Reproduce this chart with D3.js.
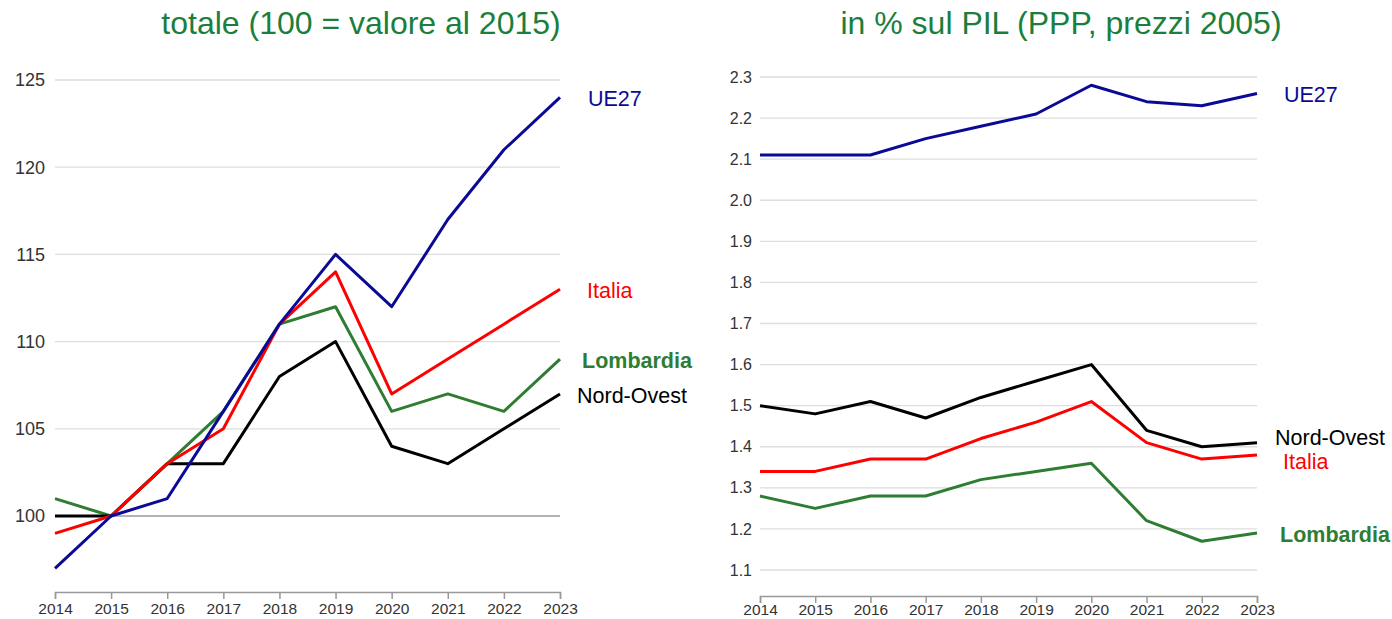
<!DOCTYPE html>
<html>
<head>
<meta charset="utf-8">
<script src="https://cdn.jsdelivr.net/npm/d3@7"></script>
<style>
  body { margin: 0; background: #fff; }
  svg { display: block; font-family: "Liberation Sans", Arial, sans-serif; }
</style>
</head>
<body>
<div id="container"></div>
<script>
// anni
const years = [2014, 2015, 2016, 2017, 2018, 2019, 2020, 2021, 2022, 2023];

// totale, indice 100 = 2015
const ue27Index = [97, 100, 101, 106, 111, 115, 112, 117, 121, 124];
const italiaIndex = [99, 100, 103, 105, 111, 114, 107, 109, 111, 113];
const lombardiaIndex = [101, 100, 103, 106, 111, 112, 106, 107, 106, 109];
const nordOvestIndex = [100, 100, 103, 103, 108, 110, 104, 103, 105, 107];
const indexTicks = [100, 105, 110, 115, 120, 125];

// % sul PIL
const ue27Pil = [2.11, 2.11, 2.11, 2.15, 2.18, 2.21, 2.28, 2.24, 2.23, 2.26];
const nordOvestPil = [1.50, 1.48, 1.51, 1.47, 1.52, 1.56, 1.60, 1.44, 1.40, 1.41];
const italiaPil = [1.34, 1.34, 1.37, 1.37, 1.42, 1.46, 1.51, 1.41, 1.37, 1.38];
const lombardiaPil = [1.28, 1.25, 1.28, 1.28, 1.32, 1.34, 1.36, 1.22, 1.17, 1.19];
const pilTicks = [1.1, 1.2, 1.3, 1.4, 1.5, 1.6, 1.7, 1.8, 1.9, 2.0, 2.1, 2.2, 2.3];

const colors = {
    'UE27': '#0a0a96',
    'Italia': '#ff0000',
    'Lombardia': '#2e7d32',
    'Nord-Ovest': '#000000'
}
const titleColor = '#1a7f3c';

const svg = d3.select('#container')
    .append('svg')
    .attr('width', 1392)
    .attr('height', 619)

const drawPanel = (opt) => {
    const x = d3.scaleLinear().domain([2014, 2023]).range([opt.left, opt.right]);
    const y = d3.scaleLinear().domain(opt.yDomain).range([opt.bottom, opt.top]);

    const g = svg.append('g');

    // title
    g.append('text')
        .attr('x', opt.titleX)
        .attr('y', 34)
        .attr('text-anchor', 'middle')
        .attr('fill', titleColor)
        .attr('font-size', 32)
        .text(opt.title)

    // gridlines
    g.selectAll('line.grid')
        .data(opt.ticks)
        .enter()
        .append('line')
        .attr('class', 'grid')
        .attr('x1', opt.left)
        .attr('x2', opt.right)
        .attr('y1', d => y(d))
        .attr('y2', d => y(d))
        .attr('stroke', d => d === opt.baseline ? '#9a9a9a' : '#dedede')
        .attr('stroke-width', d => d === opt.baseline ? 1.5 : 1.3)

    // y labels
    g.selectAll('text.ylab')
        .data(opt.ticks)
        .enter()
        .append('text')
        .attr('class', 'ylab')
        .attr('x', opt.left - opt.labelGap)
        .attr('y', d => y(d))
        .attr('dy', '0.35em')
        .attr('text-anchor', 'end')
        .attr('fill', '#333')
        .attr('font-size', opt.yFont)
        .text(d => opt.fmt(d))

    // x axis
    const xAxis = g.append('g')
        .attr('transform', `translate(0, ${opt.bottom})`)
        .call(d3.axisBottom(x).tickValues(years).tickFormat(d3.format('d')).tickSize(7).tickPadding(opt.xPad))
    xAxis.select('.domain').attr('stroke', '#999').attr('stroke-width', 1.5)
    xAxis.selectAll('.tick line').attr('stroke', '#999').attr('stroke-width', 1.5)
    xAxis.selectAll('.tick text')
        .attr('fill', '#333')
        .attr('font-size', 15.5)
        .attr('font-family', '"Liberation Sans", Arial, sans-serif')

    const line = d3.line()
        .x((d, i) => x(years[i]))
        .y(d => y(d))

    opt.series.forEach(s => {
        g.append('path')
            .datum(s.values)
            .attr('d', line)
            .attr('fill', 'none')
            .attr('stroke', colors[s.name])
            .attr('stroke-width', 3)
            .attr('stroke-linejoin', 'round')

        g.append('text')
            .attr('x', s.lx)
            .attr('y', s.ly)
            .attr('dy', '0.35em')
            .attr('fill', colors[s.name])
            .attr('font-size', 21.5)
            .attr('font-weight', s.name === 'Lombardia' ? 'bold' : 'normal')
            .text(s.name)
    })
}

drawPanel({
    title: 'totale (100 = valore al 2015)',
    titleX: 361,
    left: 55, right: 560, top: 80, bottom: 592,
    yDomain: [100 - (592 - 516) / (436 / 25), 125],
    ticks: indexTicks,
    baseline: 100,
    labelGap: 10,
    yFont: 18,
    xPad: 4,
    fmt: d3.format('d'),
    series: [
        { name: 'Lombardia', values: lombardiaIndex, lx: 582, ly: 360 },
        { name: 'Nord-Ovest', values: nordOvestIndex, lx: 577, ly: 395 },
        { name: 'Italia', values: italiaIndex, lx: 587, ly: 290 },
        { name: 'UE27', values: ue27Index, lx: 588, ly: 98 }
    ]
})

drawPanel({
    title: 'in % sul PIL (PPP, prezzi 2005)',
    titleX: 1061,
    left: 760, right: 1257, top: 77, bottom: 596,
    yDomain: [1.1 - (596 - 570) / (493 / 1.2), 2.3],
    ticks: pilTicks,
    baseline: null,
    labelGap: 8,
    yFont: 16,
    xPad: 1,
    fmt: d3.format('.1f'),
    series: [
        { name: 'Lombardia', values: lombardiaPil, lx: 1280, ly: 534 },
        { name: 'Italia', values: italiaPil, lx: 1283, ly: 461 },
        { name: 'Nord-Ovest', values: nordOvestPil, lx: 1275, ly: 437 },
        { name: 'UE27', values: ue27Pil, lx: 1284, ly: 94 }
    ]
})
</script>
</body>
</html>
